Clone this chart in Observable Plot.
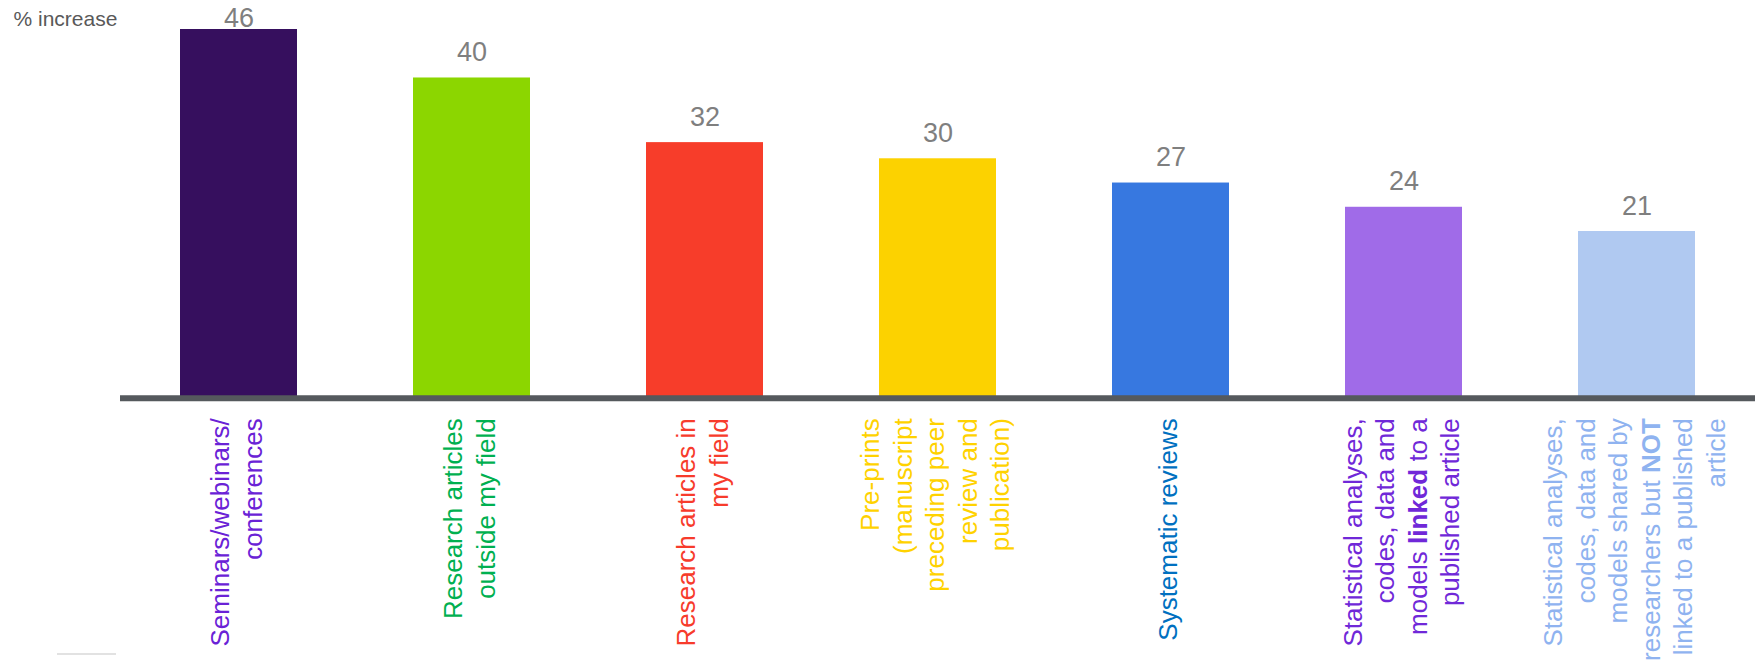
<!DOCTYPE html>
<html>
<head>
<meta charset="utf-8">
<script src="https://cdn.jsdelivr.net/npm/d3@7"></script>
<script src="https://cdn.jsdelivr.net/npm/@observablehq/plot@0.6"></script>
<style>
  html, body { margin: 0; padding: 0; background: #ffffff; }
  #wrap { position: relative; width: 1760px; height: 666px; }
  #foot { position: absolute; left: 57px; top: 653px; width: 59px; height: 0; border-top: 2px solid #e2e2e2; }
</style>
</head>
<body>
<div id="wrap"><div id="chart"></div><div id="foot"></div></div>
<script>
// ---- data ----
const categories = [
  "Seminars/webinars/conferences",
  "Research articles outside my field",
  "Research articles in my field",
  "Pre-prints (manuscript preceding peer review and publication)",
  "Systematic reviews",
  "Statistical analyses, codes, data and models linked to a published article",
  "Statistical analyses, codes, data and models shared by researchers but NOT linked to a published article"
];
const axisLabels = [
  "Seminars/webinars/\nconferences",
  "Research articles\noutside my field",
  "Research articles in\nmy field",
  "Pre-prints\n(manuscript\npreceding peer\nreview and\npublication)",
  "Systematic reviews",
  "Statistical analyses,\ncodes, data and\nmodels **linked** to a\npublished article",
  "Statistical analyses,\ncodes, data and\nmodels shared by\nresearchers but **NOT**\nlinked to a published\narticle"
];
const values = [46, 40, 32, 30, 27, 24, 21];
const yLabel = "% increase";

// ---- styles ----
const barColors = ["#360f5e", "#8cd600", "#f73d2a", "#fcd200", "#3778e0", "#a06be8", "#b0c9f1"];
const labelColors = ["#6a22d6", "#00b050", "#f73b2b", "#ffd200", "#0070c0", "#7028d8", "#8fb3f0"];

const data = categories.map((c, i) => ({category: c, value: values[i], label: axisLabels[i], i}));

const chart = Plot.plot({
  width: 1760,
  height: 666,
  marginLeft: 120,
  marginRight: 5,
  marginTop: 29,
  marginBottom: 265.3,
  style: {fontFamily: "Arial, 'Liberation Sans', sans-serif", background: "#ffffff"},
  x: {domain: categories, paddingInner: 0.5, paddingOuter: 0.25, axis: null},
  y: {domain: [0, 46], nice: false, axis: null},
  marks: [
    Plot.barY(data, {x: "category", y: "value", fill: {value: d => barColors[d.i], scale: null}}),
    Plot.ruleY([0], {stroke: "#55595d", strokeWidth: 6, dy: -3}),
    Plot.text(data, {
      x: "category",
      y: d => Math.min(d.value, 44.2),
      text: d => String(d.value),
      dy: -17,
      lineAnchor: "bottom",
      fontSize: 27,
      fill: "#7f7f7f"
    }),
    Plot.text(data, {
      x: "category",
      frameAnchor: "bottom",
      text: "label",
      rotate: -90,
      textAnchor: "end",
      lineAnchor: "middle",
      lineHeight: 1.25,
      dy: 17,
      dx: -4,
      fontSize: 26,
      fill: {value: d => labelColors[d.i], scale: null}
    }),
    Plot.text([yLabel], {
      frameAnchor: "top-left",
      text: d => d,
      textAnchor: "start",
      lineAnchor: "bottom",
      dx: -107,
      dy: -4,
      fontSize: 21,
      fill: "#595959"
    })
  ]
});

// bold emphasis marked with ** in the axis labels
const svgNS = "http://www.w3.org/2000/svg";
chart.querySelectorAll("text, tspan").forEach(el => {
  if (el.children.length) return;
  const t = el.textContent;
  if (!t.includes("**")) return;
  const parts = t.split("**");
  el.textContent = "";
  parts.forEach((p, k) => {
    if (!p) return;
    if (k % 2) {
      const ts = document.createElementNS(svgNS, "tspan");
      ts.setAttribute("font-weight", "bold");
      ts.textContent = p;
      el.appendChild(ts);
    } else {
      el.appendChild(document.createTextNode(p));
    }
  });
});

document.getElementById("chart").appendChild(chart);
</script>
</body>
</html>
